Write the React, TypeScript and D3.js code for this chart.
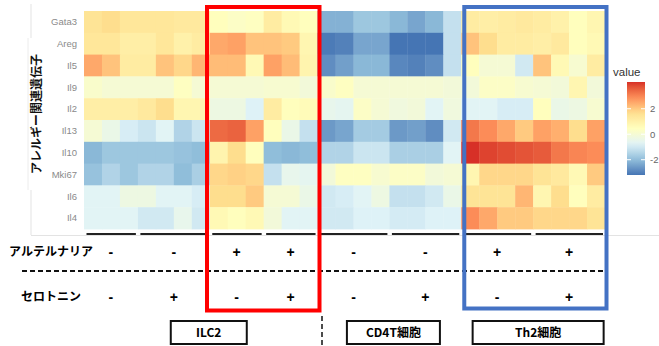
import React from "react";
import * as d3 from "d3";

// genes (rows, top to bottom)
const genes = ["Gata3", "Areg", "Il5", "Il9", "Il2", "Il13", "Il10", "Mki67", "Il6", "Il4"];

// samples per condition group, and condition signs for each group
const groupSizes = [3, 4, 3, 3, 4, 4, 4, 4];
const alternaria = ["-", "-", "+", "+", "-", "-", "+", "+"];
const serotonin = ["-", "+", "-", "+", "-", "+", "-", "+"];

// scaled expression per sample (29 columns)
const gata3 = [1.5, 1.7, 1.4, 1.4, 1.4, 1.3, 1.3, 0.5, 0.3, 0.4, 1.2, 0.7, 0.5, -2.2, -2.2, -1.8, -1.8, -2.1, -2.4, -2.1, -1.2, 1.2, 1.1, 1.2, 1.3, 1.2, 1.0, 0.5, 0.8];
const areg = [1.4, 1.4, 1.1, 1.1, 1.4, 1.0, 1.2, 2.5, 2.6, 2.1, 2.1, 2.0, 0.8, -3.1, -3.0, -2.4, -2.4, -3.2, -3.2, -3.2, -1.2, 2.1, 1.7, 1.2, 1.2, 1.1, 1.3, 0.5, 0.7];
const il5 = [2.5, 2.1, 1.2, 1.2, 2.1, 1.8, 2.3, 2.2, 2.2, 0.7, 2.6, 2.2, 0.9, -2.8, -2.5, -2.1, -2.1, -2.9, -3.0, -2.8, -1.2, 0.5, 0.0, 0.0, -1.0, 2.1, 0.7, 0.1, 1.2];
const il9 = [0.2, 0.0, 0.0, 0.0, 0.0, 0.4, 0.0, 0.0, 0.0, 0.0, 0.1, 0.1, -0.1, 0.2, 0.4, 0.0, 0.0, 0.0, 0.0, 0.0, -0.1, -0.1, 0.3, 0.3, 0.1, 0.0, -0.1, 0.8, -0.1];
const il2 = [1.1, 1.1, 1.1, 1.3, 1.7, 0.8, 0.8, -0.3, -0.3, -0.8, 1.2, 0.5, 0.6, -0.5, -0.6, 0.3, 0.0, -0.2, -0.1, -0.7, -0.2, -0.7, -0.7, -0.9, -0.9, 0.5, -0.4, -0.3, 0.1];
const il13 = [0.0, -0.4, -0.9, -1.1, -0.7, -1.5, -1.1, 3.4, 3.5, 2.6, 0.5, -0.4, -1.2, -2.6, -2.4, -1.7, -1.7, -2.6, -2.5, -2.8, -1.0, 3.2, 2.9, 2.5, 2.0, 2.6, 2.4, 1.7, 2.6];
const il10 = [-2.1, -1.8, -1.8, -1.8, -1.8, -1.9, -2.0, 0.9, 1.7, 0.5, -2.0, -2.1, -2.0, -1.5, -1.5, -1.1, -1.1, -1.6, -1.6, -1.6, -0.7, 4.1, 3.9, 3.8, 3.7, 3.6, 3.2, 3.0, 2.9];
const mki67 = [-1.9, -1.5, -1.8, -1.5, -1.5, -2.0, -1.6, 1.8, 1.9, 1.8, -1.2, -0.5, -0.6, -0.1, 0.4, 0.4, 0.1, 0.3, 0.3, -0.1, 0.0, 0.8, 1.8, 1.8, 1.8, 1.5, 1.3, 0.7, 2.0];
const il6 = [-0.7, -0.7, -0.3, -0.3, -0.7, -0.7, -0.9, 1.7, 1.7, 2.0, 0.0, 0.0, -0.4, -1.0, -0.9, -0.7, -0.3, -1.2, -1.2, -1.0, -0.4, 1.5, 1.5, 1.5, 2.3, 0.8, 1.7, 0.5, 1.2];
const il4 = [-0.7, -0.7, -0.7, -1.0, -1.0, -0.5, -1.0, 0.7, 0.5, 0.7, -0.1, -0.7, -0.7, -1.0, -1.0, -0.8, -0.8, -0.95, -0.95, -0.8, -0.8, 2.9, 2.5, 2.0, 2.0, 1.8, 1.8, 1.8, 1.5];

const rows = [gata3, areg, il5, il9, il2, il13, il10, mki67, il6, il4];

// cell type boxes under the groups: [first group, last group]
const cellTypes = ["ILC2", "CD4T細胞", "Th2細胞"];
const cellTypeGroups = [[0, 3], [4, 5], [6, 7]];

const legendTicks = [-2, 0, 2];
const palette = ["#4575b4", "#91bfdb", "#e0f3f8", "#ffffbf", "#fee090", "#fc8d59", "#d73027"];

const jp = "'Noto Sans CJK JP', sans-serif";
const latin = "'Liberation Sans', Arial, sans-serif";

const App = () => {
  const width = 659;
  const height = 346;
  const nCols = d3.sum(groupSizes);
  const vMin = -3.2;
  const vMax = 4.1;

  const x = d3.scaleBand<number>().domain(d3.range(nCols)).range([84, 605]);
  const y = d3.scaleBand<string>().domain(genes).range([11, 229]);

  const color = d3
    .scaleLinear<string>()
    .domain(palette.map((_, i) => vMin + (i * (vMax - vMin)) / (palette.length - 1)))
    .range(palette)
    .interpolate(d3.interpolateLab);

  // group start/end columns
  const groupStart = groupSizes.map((_, i) => d3.sum(groupSizes.slice(0, i)));
  const gx0 = (g) => x(groupStart[g]);
  const gx1 = (g) => x(groupStart[g] + groupSizes[g] - 1) + x.bandwidth();
  const gmid = (g) => (gx0(g) + gx1(g)) / 2;

  const legendY = d3.scaleLinear().domain([vMin, vMax]).range([175, 82]);
  const stops = d3.range(0, 1.0001, 0.05);

  const boxW = [76, 93, 131];
  const boxDx = [8, 4, 5];

  return (
    <svg
      width={width}
      height={height}
      style={{ position: "absolute", left: 0, top: 0, background: "#fff" }}
    >
      <defs>
        <linearGradient id="legendGrad" x1="0" y1="1" x2="0" y2="0">
          {stops.map((t) => (
            <stop key={t} offset={t} stopColor={color(vMin + t * (vMax - vMin))} />
          ))}
        </linearGradient>
      </defs>

      {/* faint frame of the pasted plot */}
      <line x1={31} x2={31} y1={4} y2={38} stroke="#e3e3e3" />
      <line x1={28} x2={28} y1={38} y2={190} stroke="#ececec" />
      <line x1={31} x2={31} y1={190} y2={235} stroke="#e3e3e3" />
      <line x1={31} x2={659} y1={235.5} y2={235.5} stroke="#e3e3e3" />

      {/* heatmap cells */}
      {rows.map((vals, r) =>
        vals.map((v, c) => (
          <rect
            key={`${r}-${c}`}
            x={x(c)}
            y={y(genes[r])}
            width={x.bandwidth() + 0.4}
            height={y.bandwidth() + 0.4}
            fill={color(v)}
          />
        ))
      )}

      {/* gene labels */}
      {genes.map((g) => (
        <text
          key={g}
          x={77}
          y={y(g) + y.bandwidth() / 2}
          dy="0.35em"
          textAnchor="end"
          fontSize={9.5}
          fontFamily={latin}
          fill="#8a8a8a"
        >
          {g}
        </text>
      ))}
      <text
        transform={`translate(41,114) rotate(-90)`}
        textAnchor="middle"
        fontSize={12}
        fontWeight="bold"
        fontFamily={jp}
        fill="#111"
      >
        アレルギー関連遺伝子
      </text>

      {/* group underlines */}
      {groupSizes.map((_, g) => (
        <line
          key={g}
          x1={gx0(g) + 2.5}
          x2={gx1(g) - 2}
          y1={234}
          y2={234}
          stroke="#222"
          strokeWidth={2}
        />
      ))}

      {/* condition rows */}
      <text x={51} y={252} dy="0.35em" textAnchor="middle" fontSize={12} fontWeight="bold" fontFamily={jp}>
        アルテルナリア
      </text>
      <text x={51} y={297} dy="0.35em" textAnchor="middle" fontSize={12} fontWeight="bold" fontFamily={jp}>
        セロトニン
      </text>
      {alternaria.map((s, g) => (
        <text key={`a${g}`} x={gmid(g)} y={252} dy="0.35em" textAnchor="middle" fontSize={14} fontWeight="bold" fontFamily={latin}>
          {s}
        </text>
      ))}
      {serotonin.map((s, g) => (
        <text key={`s${g}`} x={gmid(g)} y={297} dy="0.35em" textAnchor="middle" fontSize={14} fontWeight="bold" fontFamily={latin}>
          {s}
        </text>
      ))}
      <line x1={22} x2={604} y1={271} y2={271} stroke="#111" strokeWidth={2} strokeDasharray="5 3" />
      <line x1={322} x2={322} y1={316} y2={346} stroke="#111" strokeWidth={1.5} strokeDasharray="5 3" />

      {/* cell type boxes */}
      {cellTypes.map((ct, i) => {
        const [g0, g1] = cellTypeGroups[i];
        const cx = (gx0(g0) + gx1(g1)) / 2 + boxDx[i];
        return (
          <g key={ct}>
            <rect x={cx - boxW[i] / 2} y={321} width={boxW[i]} height={23} fill="#fff" stroke="#111" strokeWidth={2} />
            <text x={cx} y={332.5} dy="0.35em" textAnchor="middle" fontSize={12} fontWeight="bold" fontFamily={jp}>
              {ct}
            </text>
          </g>
        );
      })}

      {/* highlight boxes */}
      <rect x={207} y={7} width={112.5} height={303.5} fill="none" stroke="#ff0000" strokeWidth={4} />
      <rect x={gx0(6) + 3} y={7} width={gx1(7) - gx0(6) - 1.5} height={301.5} fill="none" stroke="#4472c4" strokeWidth={4} />

      {/* legend */}
      <text x={613} y={72} dy="0.35em" fontSize={11.5} fontFamily={latin} fill="#333">
        value
      </text>
      <rect x={627} y={82} width={18} height={93} fill="url(#legendGrad)" />
      {legendTicks.map((t) => (
        <g key={t}>
          <line x1={627} x2={631} y1={legendY(t)} y2={legendY(t)} stroke="#fff" />
          <line x1={641} x2={645} y1={legendY(t)} y2={legendY(t)} stroke="#fff" />
          <text x={650} y={legendY(t)} dy="0.35em" fontSize={9.5} fontFamily={latin} fill="#666">
            {t}
          </text>
        </g>
      ))}
    </svg>
  );
};

export default App;
